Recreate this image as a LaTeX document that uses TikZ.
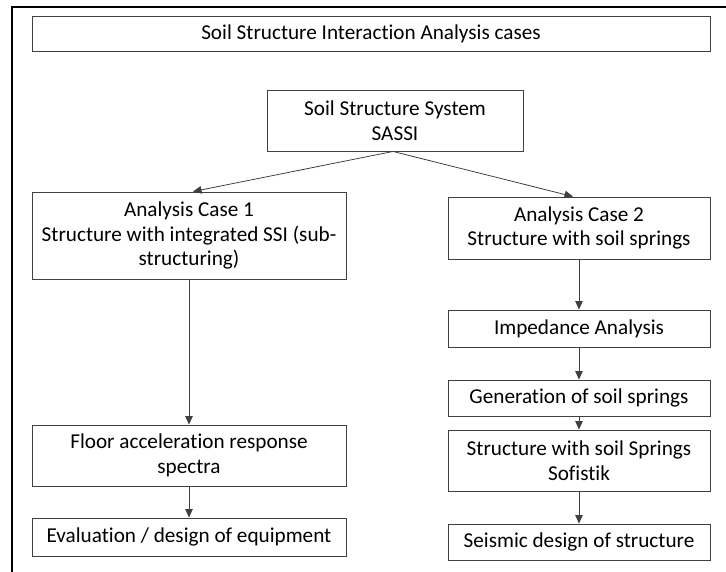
\documentclass[tikz,border=0pt]{standalone}
\usepackage{fontspec}
\setmainfont{Carlito}[Ligatures=NoCommon]
\usetikzlibrary{arrows.meta}
\definecolor{edge}{RGB}{64,64,64}
\tikzset{
  cell/.style={draw=edge, line width=0.9pt, align=center, inner sep=0pt,
    font=\fontsize{21.2}{24.5}\selectfont},
  link/.style={draw=edge, line width=0.8pt, -{Triangle[length=8.5pt,width=7.5pt]}}
}
\begin{document}
\begin{tikzpicture}[x=1pt,y=-1pt]

\clip (0,0) rectangle (726,571);
\draw[line width=2pt] (11.5,7) rectangle (760,600);

\node[cell, minimum width=678pt, minimum height=35pt] (title) at (371,33.5) {Soil Structure Interaction Analysis cases};
\node[cell, minimum width=256pt, minimum height=61pt] (sassi) at (395,120.5) {Soil Structure System\\SASSI};

\node[cell, minimum width=314pt, minimum height=87pt] (case1) at (189,235.5) {Analysis Case 1\\Structure with integrated SSI (sub-\\structuring)};
\node[cell, minimum width=314pt, minimum height=61pt] (floor) at (189,455.5) {Floor acceleration response\\spectra};
\node[cell, minimum width=314pt, minimum height=38pt] (eval) at (189,537) {Evaluation / design of equipment};

\node[cell, minimum width=262pt, minimum height=62pt] (case2) at (579,228) {Analysis Case 2\\Structure with soil springs};
\node[cell, minimum width=262pt, minimum height=37pt] (imped) at (579,328.5) {Impedance Analysis};
\node[cell, minimum width=262pt, minimum height=36pt] (gen) at (579,398) {Generation of soil springs};
\node[cell, minimum width=262pt, minimum height=61pt] (springs) at (579,460.5) {Structure with soil Springs\\Sofistik};
\node[cell, minimum width=262pt, minimum height=36pt] (seismic) at (579,542) {Seismic design of structure};

\draw[link] ([xshift=-2pt]sassi.south) -- ([xshift=4pt]case1.north);
\draw[link] ([xshift=-2pt]sassi.south) -- ([xshift=-6pt]case2.north);

\draw[link] (case1.south) -- (floor.north);
\draw[link] (floor.south) -- (eval.north);

\draw[link] (case2.south) -- (imped.north);
\draw[link] (imped.south) -- (gen.north);
\draw[link] (gen.south) -- (springs.north);
\draw[link] (springs.south) -- (seismic.north);

\end{tikzpicture}
\end{document}
